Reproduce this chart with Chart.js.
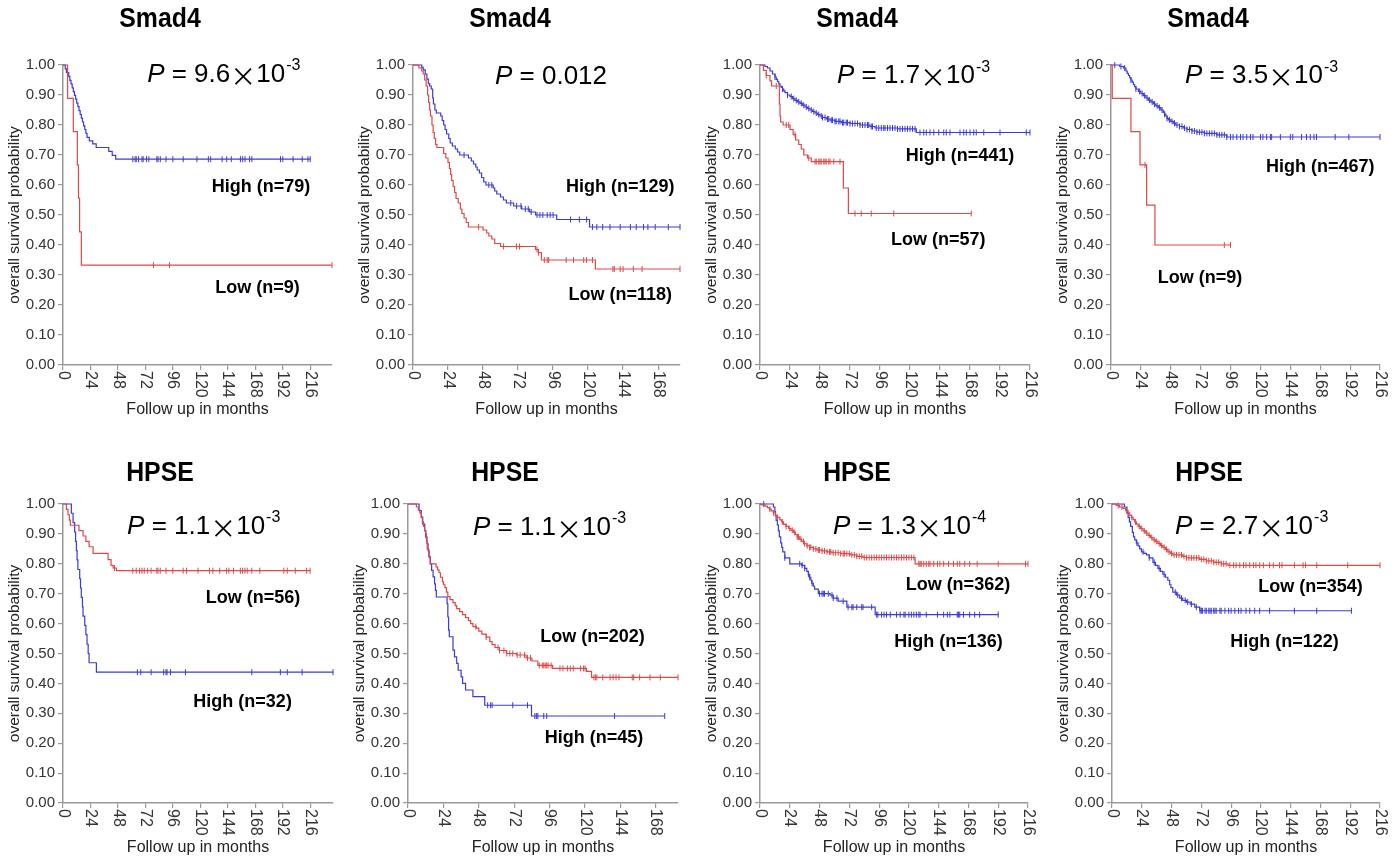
<!DOCTYPE html>
<html>
<head>
<meta charset="utf-8">
<script src="https://cdn.jsdelivr.net/npm/chart.js@4.4.1/dist/chart.umd.min.js"></script>
<style>
  body { margin: 0; background: #fff; width: 1400px; height: 861px; position: relative; overflow: hidden; }
  canvas { position: absolute; }
</style>
</head>
<body>
<script>
// axis ticks
const xTicks = [0, 24, 48, 72, 96, 120, 144, 168, 192, 216];
const yTicks = [0, 0.1, 0.2, 0.3, 0.4, 0.5, 0.6, 0.7, 0.8, 0.9, 1.0];

// panel texts
const genes = ['Smad4', 'Smad4', 'Smad4', 'Smad4', 'HPSE', 'HPSE', 'HPSE', 'HPSE'];
const pMantissa = ['9.6', '0.012', '1.7', '3.5', '1.1', '1.1', '1.3', '2.7'];
const pExponent = ['-3', null, '-3', '-3', '-3', '-3', '-4', '-3'];
const highLabels = ['High (n=79)', 'High (n=129)', 'High (n=441)', 'High (n=467)', 'High (n=32)', 'High (n=45)', 'High (n=136)', 'High (n=122)'];
const lowLabels = ['Low (n=9)', 'Low (n=118)', 'Low (n=57)', 'Low (n=9)', 'Low (n=56)', 'Low (n=202)', 'Low (n=362)', 'Low (n=354)'];

// Kaplan-Meier steps: T = event times (months), S = survival after the step, C = censor times
const p1HighT = [2, 3, 5, 6, 7, 8, 9, 10, 11, 12, 13, 14, 15, 16, 17, 18, 19, 20, 21, 23, 26, 29, 40, 43, 46];
const p1HighS = [0.987, 0.975, 0.962, 0.949, 0.937, 0.924, 0.911, 0.899, 0.886, 0.873, 0.861, 0.848, 0.835, 0.823, 0.810, 0.797, 0.785, 0.772, 0.759, 0.747, 0.737, 0.725, 0.712, 0.699, 0.686];
const p1HighC = [61, 63, 64, 66, 69, 70, 73, 75, 82, 83, 85, 90, 96, 105, 117, 127, 129, 139, 143, 147, 155, 157, 159, 163, 165, 190, 192, 201, 209, 214, 216];
const p1LowT = [4, 9, 12.5, 13.5, 14.5, 16];
const p1LowS = [0.889, 0.778, 0.667, 0.556, 0.444, 0.333];
const p1LowC = [79, 93, 235];

const p2HighT = [6, 7, 8.4, 9.5, 10.5, 11.4, 12.5, 13.5, 14, 15, 16, 19, 20, 21, 22, 23, 24.5, 25.5, 27, 29, 30.5, 32, 38, 40, 41.5, 43, 44, 45.5, 47, 48.5, 50, 55, 56, 57.4, 60, 62, 64, 69, 74.5, 80, 84, 98.5, 121];
const p2HighS = [0.992, 0.984, 0.97, 0.953, 0.938, 0.93, 0.92, 0.89, 0.87, 0.85, 0.84, 0.83, 0.815, 0.80, 0.785, 0.77, 0.755, 0.74, 0.73, 0.72, 0.71, 0.70, 0.69, 0.68, 0.67, 0.66, 0.65, 0.64, 0.625, 0.61, 0.60, 0.59, 0.58, 0.57, 0.56, 0.55, 0.54, 0.53, 0.52, 0.51, 0.50, 0.485, 0.46];
const p2HighC = [35, 52, 54, 67, 71, 74, 77, 79, 81, 85, 87, 89, 92, 94, 96, 108, 114, 119, 123, 126, 130, 135, 142, 149, 153, 158, 161, 166, 175, 183];
const p2LowT = [4, 6, 7, 8, 9, 10, 10.7, 11.4, 12, 13, 13.8, 14.6, 15.5, 16.4, 21, 22.5, 24, 25, 25.8, 26.5, 27.5, 28.5, 29.5, 31, 32.5, 33.5, 35, 36.5, 38, 48, 50.5, 52, 54, 56, 60, 84, 86, 88, 125];
const p2LowS = [0.99, 0.98, 0.97, 0.95, 0.93, 0.90, 0.875, 0.85, 0.83, 0.80, 0.775, 0.755, 0.735, 0.725, 0.705, 0.69, 0.675, 0.655, 0.635, 0.615, 0.595, 0.575, 0.555, 0.54, 0.52, 0.505, 0.49, 0.475, 0.46, 0.45, 0.44, 0.43, 0.42, 0.405, 0.395, 0.385, 0.375, 0.35, 0.32];
const p2LowC = [45, 62, 71, 73, 85, 86, 90, 92, 93, 105, 110, 117, 119, 123, 137, 138, 142, 144, 151, 157, 183];

const p3HighT = [4, 6, 8, 10, 12, 13, 14, 15, 16, 17, 18, 19, 20, 22, 24, 26, 28, 30, 32, 34, 36, 38, 40, 42, 44, 46, 48, 50, 53, 56, 60, 65, 72, 80, 88, 92, 110, 125];
const p3HighS = [0.995, 0.99, 0.98, 0.97, 0.96, 0.952, 0.945, 0.937, 0.93, 0.925, 0.92, 0.914, 0.908, 0.90, 0.895, 0.888, 0.882, 0.877, 0.872, 0.866, 0.86, 0.855, 0.85, 0.845, 0.84, 0.835, 0.83, 0.825, 0.82, 0.816, 0.812, 0.808, 0.805, 0.80, 0.795, 0.79, 0.787, 0.775];
const p3HighC = [12, 18, 22, 25, 27, 29, 31, 33, 35, 37, 39, 41, 43, 45, 47, 49, 50, 52, 54, 55, 57, 58, 60, 61, 63, 64, 66, 67, 69, 70, 72, 74, 76, 78, 80, 82, 84, 86, 87, 89, 90, 93, 95, 97, 99, 100, 102, 104, 106, 108, 110, 112, 114, 116, 118, 120, 122, 124, 128, 131, 133, 136, 139, 143, 147, 149, 152, 160, 163, 165, 168, 171, 173, 179, 192, 213, 216];
const p3LowT = [2.7, 5, 8, 9.3, 15.5, 16, 16.5, 18.5, 24, 26.5, 28.5, 31, 33, 35, 38, 41, 66.7, 70.7];
const p3LowS = [0.982, 0.965, 0.947, 0.93, 0.87, 0.83, 0.81, 0.80, 0.785, 0.768, 0.75, 0.735, 0.72, 0.70, 0.69, 0.678, 0.59, 0.505];
const p3LowC = [5, 13, 21, 23, 28, 39, 44, 45, 47, 48, 49, 51, 52, 53, 55, 56, 59, 64, 76, 81, 89, 107, 169];

const p4HighT = [7, 10, 12, 13, 14, 15, 16, 17, 18, 19, 20, 22, 24, 26, 28, 30, 32, 34, 36, 38, 40, 42, 43, 44, 45, 46, 48, 50, 52, 55, 58, 61, 65, 69, 75, 85, 93];
const p4HighS = [0.995, 0.99, 0.98, 0.972, 0.965, 0.957, 0.95, 0.943, 0.935, 0.928, 0.92, 0.912, 0.905, 0.898, 0.89, 0.883, 0.877, 0.87, 0.864, 0.858, 0.85, 0.842, 0.836, 0.83, 0.822, 0.817, 0.812, 0.806, 0.80, 0.795, 0.79, 0.785, 0.78, 0.776, 0.772, 0.767, 0.76];
const p4HighC = [3, 8, 11, 16, 20, 23, 25, 27, 29, 31, 33, 35, 37, 39, 41, 43, 45, 47, 49, 51, 53, 55, 57, 59, 61, 63, 65, 67, 69, 71, 73, 75, 77, 79, 81, 83, 85, 87, 89, 91, 93, 96, 98, 101, 104, 106, 109, 112, 114, 120, 122, 125, 128, 129, 136, 144, 146, 153, 157, 160, 163, 165, 180, 191, 216];
const p4LowT = [1, 16, 23.3, 28.6, 35.3];
const p4LowS = [0.889, 0.778, 0.667, 0.533, 0.40];
const p4LowC = [27.3, 91, 96];

const p5HighT = [7.3, 8.8, 10.2, 11, 11.7, 12.3, 13, 14.6, 15.3, 16, 17, 17.5, 19, 20, 21, 22, 22.8, 29.2];
const p5HighS = [0.969, 0.938, 0.906, 0.875, 0.844, 0.813, 0.781, 0.750, 0.719, 0.688, 0.656, 0.625, 0.594, 0.563, 0.531, 0.500, 0.469, 0.4375];
const p5HighC = [65, 68, 77, 88, 90, 91, 94, 107, 165, 190, 196, 209, 236];
const p5LowT = [3, 4.4, 5.5, 6.4, 14, 17.5, 20, 22.8, 26.3, 39.4, 42, 43.8, 46.7];
const p5LowS = [0.982, 0.964, 0.946, 0.929, 0.911, 0.893, 0.875, 0.857, 0.835, 0.814, 0.795, 0.786, 0.777];
const p5LowC = [45, 61, 64, 67, 69, 71, 74, 77, 82, 83, 85, 90, 96, 105, 108, 118, 128, 131, 137, 143, 145, 149, 155, 157, 159, 161, 165, 172, 193, 196, 203, 213, 216];

const p6HighT = [7.5, 9, 10, 11.3, 12, 12.9, 13.6, 14.3, 15.2, 16, 17, 18, 18.6, 19.2, 26.5, 27, 27.5, 28, 30.5, 31.5, 33, 34, 36, 37, 39, 44, 52, 83.7];
const p6HighS = [0.978, 0.956, 0.933, 0.911, 0.889, 0.867, 0.844, 0.822, 0.80, 0.778, 0.756, 0.733, 0.711, 0.689, 0.667, 0.622, 0.578, 0.556, 0.511, 0.489, 0.467, 0.444, 0.422, 0.40, 0.378, 0.356, 0.327, 0.291];
const p6HighC = [54, 56, 57, 71, 81, 86, 87, 88, 92, 94, 140, 174];
const p6LowT = [5.7, 7, 8, 9, 9.7, 10.5, 11.3, 12, 12.5, 13, 14, 15, 19, 20, 21, 22, 23.3, 24, 25, 26, 27, 28.5, 30.5, 32, 33, 35, 37, 39, 41, 42.5, 44, 46.4, 48, 50, 53, 55.4, 57, 59, 62, 66.7, 73.5, 80, 84, 88, 98, 121, 124.4];
const p6LowS = [0.99, 0.98, 0.97, 0.955, 0.94, 0.925, 0.91, 0.90, 0.875, 0.85, 0.825, 0.80, 0.79, 0.78, 0.77, 0.755, 0.74, 0.73, 0.72, 0.705, 0.69, 0.68, 0.67, 0.66, 0.65, 0.64, 0.63, 0.62, 0.61, 0.60, 0.59, 0.585, 0.575, 0.565, 0.555, 0.54, 0.53, 0.52, 0.51, 0.50, 0.495, 0.485, 0.475, 0.46, 0.45, 0.44, 0.42];
const p6LowC = [46, 53, 61, 62, 65, 67, 69, 71, 74, 76, 79, 81, 83, 89, 91, 92, 93, 94, 95, 97, 103, 105, 108, 110, 112, 117, 119, 120, 126, 127, 128, 132, 137, 139, 141, 143, 152, 153, 157, 164, 171, 183];

const p7HighT = [10.8, 12, 12.5, 13, 14, 14.8, 15.6, 16.7, 17.5, 18.3, 20, 24, 33.6, 36, 37.7, 39, 40, 41, 41.7, 43, 44, 47, 56.5, 59, 63, 70, 92.8];
const p7HighS = [0.99, 0.975, 0.96, 0.945, 0.93, 0.91, 0.89, 0.87, 0.855, 0.84, 0.82, 0.80, 0.795, 0.785, 0.775, 0.765, 0.755, 0.745, 0.735, 0.725, 0.715, 0.70, 0.695, 0.685, 0.675, 0.655, 0.63];
const p7HighC = [3, 20, 32, 34, 36, 39, 40, 42, 48, 50, 51, 52, 55, 58, 59, 62, 67, 71, 74, 75, 78, 82, 83, 90, 94, 95, 98, 100, 102, 105, 110, 113, 116, 117, 120, 122, 124, 126, 128, 129, 134, 143, 148, 151, 153, 159, 160, 161, 164, 169, 173, 177, 192];
const p7LowT = [1.3, 4, 6, 7.5, 9, 10.8, 12.5, 14, 16, 17.5, 19, 21, 23, 25, 27, 28.5, 30, 32, 33.6, 35.5, 37.7, 40, 43, 46, 50, 54, 58, 65, 72.6, 78, 83, 125];
const p7LowS = [0.997, 0.993, 0.988, 0.983, 0.977, 0.97, 0.962, 0.955, 0.947, 0.94, 0.932, 0.925, 0.918, 0.912, 0.905, 0.898, 0.89, 0.882, 0.875, 0.867, 0.86, 0.855, 0.85, 0.846, 0.843, 0.84, 0.837, 0.834, 0.83, 0.825, 0.821, 0.80];
const p7LowC = [8, 11, 14, 18, 21, 24, 26, 28, 30, 31, 33, 35, 36, 38, 40, 41, 43, 45, 47, 48, 50, 52, 54, 56, 57, 59, 61, 63, 65, 67, 68, 70, 72, 74, 76, 78, 80, 82, 84, 86, 88, 90, 92, 94, 96, 98, 100, 102, 104, 106, 108, 110, 112, 114, 116, 118, 120, 122, 124, 128, 129, 130, 132, 134, 136, 137, 140, 143, 145, 148, 152, 156, 159, 161, 165, 169, 175, 192, 214, 216];

const p8HighT = [10, 12, 13, 14, 15, 16.4, 17.3, 18.3, 19.6, 21, 22.3, 23.7, 25.7, 27.7, 30, 33, 35, 37, 39, 41, 43, 45, 46.5, 47.5, 49, 52, 54.6, 57, 60, 63, 66.7, 70.7];
const p8HighS = [0.99, 0.97, 0.955, 0.94, 0.925, 0.905, 0.89, 0.88, 0.87, 0.86, 0.85, 0.84, 0.835, 0.83, 0.82, 0.805, 0.795, 0.785, 0.775, 0.765, 0.755, 0.745, 0.73, 0.72, 0.705, 0.695, 0.685, 0.678, 0.672, 0.665, 0.655, 0.643];
const p8HighC = [20, 25, 30, 34, 38, 42, 51, 53, 56, 59, 61, 64, 68, 71, 72, 73, 75, 76, 78, 79, 80, 82, 83, 84, 87, 88, 91, 94, 96, 99, 102, 104, 108, 111, 115, 119, 127, 147, 165, 193];
const p8LowT = [3.5, 6, 9, 11, 13, 14.3, 15.6, 17, 18.3, 19.7, 21, 23, 25, 27, 29, 31, 33, 35, 37, 39, 41, 43, 45, 47, 49, 57, 60, 70.7, 76, 82, 88, 93.6];
const p8LowS = [0.995, 0.99, 0.985, 0.978, 0.97, 0.962, 0.955, 0.948, 0.94, 0.933, 0.925, 0.918, 0.91, 0.903, 0.895, 0.888, 0.88, 0.875, 0.868, 0.861, 0.855, 0.848, 0.84, 0.835, 0.83, 0.825, 0.82, 0.815, 0.81, 0.805, 0.80, 0.795];
const p8LowC = [5, 8, 12, 16, 19, 22, 24, 26, 28, 30, 32, 34, 36, 38, 40, 42, 44, 46, 48, 50, 52, 54, 56, 58, 60, 62, 64, 66, 68, 70, 72, 74, 76, 78, 80, 82, 84, 86, 88, 90, 92, 95, 98, 100, 103, 106, 108, 111, 114, 116, 119, 122, 127, 130, 135, 137, 147, 154, 156, 165, 190, 216];

const curves = [
  [[p1HighT, p1HighS, p1HighC], [p1LowT, p1LowS, p1LowC]],
  [[p2HighT, p2HighS, p2HighC], [p2LowT, p2LowS, p2LowC]],
  [[p3HighT, p3HighS, p3HighC], [p3LowT, p3LowS, p3LowC]],
  [[p4HighT, p4HighS, p4HighC], [p4LowT, p4LowS, p4LowC]],
  [[p5HighT, p5HighS, p5HighC], [p5LowT, p5LowS, p5LowC]],
  [[p6HighT, p6HighS, p6HighC], [p6LowT, p6LowS, p6LowC]],
  [[p7HighT, p7HighS, p7HighC], [p7LowT, p7LowS, p7LowC]],
  [[p8HighT, p8HighS, p8HighC], [p8LowT, p8LowS, p8LowC]]
];

// layout of each panel on the page (canvas box, plot top/bottom, axis max, text anchors in data units)
const layout = [
  { left: 0,    top: 0,   w: 346, h: 440, plotTop: 65,  plotBottom: 365, xmax: 235, titleY: 20,  pAt: [73.5, 0.967], highAt: [173, 0.593], lowAt: [170, 0.257] },
  { left: 350,  top: 0,   w: 344, h: 440, plotTop: 65,  plotBottom: 365, xmax: 183, titleY: 20,  pAt: [56.2, 0.96],  highAt: [142, 0.593], lowAt: [142, 0.233] },
  { left: 697,  top: 0,   w: 347, h: 440, plotTop: 65,  plotBottom: 365, xmax: 216, titleY: 20,  pAt: [61.6, 0.963], highAt: [160, 0.697], lowAt: [142.6, 0.417] },
  { left: 1048, top: 0,   w: 346, h: 440, plotTop: 65,  plotBottom: 365, xmax: 216, titleY: 20,  pAt: [59.4, 0.963], highAt: [168, 0.66],  lowAt: [71.5, 0.29] },
  { left: 0,    top: 440, w: 347, h: 421, plotTop: 504, plotBottom: 803, xmax: 236, titleY: 474, pAt: [56, 0.923],   highAt: [157, 0.338], lowAt: [166, 0.686] },
  { left: 345,  top: 440, w: 347, h: 421, plotTop: 504, plotBottom: 803, xmax: 183, titleY: 474, pAt: [44, 0.92],    highAt: [126, 0.217], lowAt: [125, 0.555] },
  { left: 697,  top: 440, w: 345, h: 421, plotTop: 504, plotBottom: 803, xmax: 216, titleY: 474, pAt: [58.8, 0.923], highAt: [152, 0.538], lowAt: [159.5, 0.729] },
  { left: 1049, top: 440, w: 345, h: 421, plotTop: 504, plotBottom: 803, xmax: 216, titleY: 474, pAt: [50.8, 0.923], highAt: [139, 0.538], lowAt: [160, 0.722] }
];

const FONT = "'Liberation Sans', Arial, sans-serif";
const BLUE = '#3b3bdc';
const RED = '#e04848';
const AXIS = '#9a9a9a';

function survivalAt(T, S, t) {
  let s = 1;
  for (let i = 0; i < T.length; i++) if (T[i] <= t) s = S[i];
  return s;
}

function kmDatasets(group, color) {
  const [T, S, C] = group;
  const end = Math.max(...C, T[T.length - 1]);
  const pts = [{ x: 0, y: 1 }];
  T.forEach((t, i) => pts.push({ x: t, y: S[i] }));
  pts.push({ x: end, y: S[S.length - 1] });
  return [
    { data: pts, stepped: true, borderColor: color, borderWidth: 1.2, pointRadius: 0, fill: false, clip: false },
    { data: C.map(t => ({ x: t, y: survivalAt(T, S, t) })), showLine: false, pointStyle: 'line', pointRotation: 90,
      pointRadius: 3, pointBorderColor: color, pointBorderWidth: 1, clip: false }
  ];
}

function annotatePlugin(i) {
  const g = layout[i];
  return {
    id: 'annotate' + i,
    afterDraw(chart) {
      const { ctx, chartArea: a, scales: { x, y } } = chart;
      ctx.save();
      // title
      ctx.fillStyle = '#000';
      ctx.textAlign = 'center';
      ctx.textBaseline = 'middle';
      ctx.save();
      ctx.translate(a.left + 97, g.titleY - g.top);
      ctx.scale(0.92, 1);
      ctx.font = 'bold 27px ' + FONT;
      ctx.fillText(genes[i], 0, 0);
      ctx.restore();

      // y axis title
      ctx.fillStyle = '#222';
      ctx.font = '15.5px ' + FONT;
      ctx.save();
      ctx.translate(a.left - 48, (a.top + a.bottom) / 2);
      ctx.rotate(-Math.PI / 2);
      ctx.fillText('overall survival probability', 0, 0);
      ctx.restore();

      // x axis title
      ctx.font = '16px ' + FONT;
      ctx.fillText('Follow up in months', (a.left + a.right) / 2, a.bottom + 45);

      // rotated x tick labels
      ctx.fillStyle = '#333';
      ctx.font = '16px ' + FONT;
      ctx.textAlign = 'left';
      x.ticks.forEach(t => {
        ctx.save();
        ctx.translate(x.getPixelForValue(t.value), a.bottom + 6);
        ctx.rotate(Math.PI / 2);
        ctx.fillText(String(t.value), 0, 0);
        ctx.restore();
      });

      // P value
      ctx.fillStyle = '#000';
      let px = x.getPixelForValue(g.pAt[0]);
      const py = y.getPixelForValue(g.pAt[1]);
      ctx.font = 'italic 26px ' + FONT;
      ctx.fillText('P', px, py);
      px += ctx.measureText('P').width;
      ctx.font = '26px ' + FONT;
      const mid = ' = ' + pMantissa[i];
      ctx.fillText(mid, px, py);
      px += ctx.measureText(mid).width;
      if (pExponent[i]) {
        ctx.font = '26px "Noto Sans CJK SC"';
        ctx.fillText('\u00d7', px, py + 1);
        px += ctx.measureText('\u00d7').width;
        ctx.font = '26px ' + FONT;
        ctx.fillText('10', px, py);
        px += ctx.measureText('10').width;
        ctx.font = '16px ' + FONT;
        ctx.fillText(pExponent[i], px + 1, py - 9);
      }

      // group labels
      ctx.textAlign = 'center';
      ctx.font = 'bold 18px ' + FONT;
      ctx.fillText(highLabels[i], x.getPixelForValue(g.highAt[0]), y.getPixelForValue(g.highAt[1]));
      ctx.fillText(lowLabels[i], x.getPixelForValue(g.lowAt[0]), y.getPixelForValue(g.lowAt[1]));
      ctx.restore();
    }
  };
}

layout.forEach((g, i) => {
  const canvas = document.createElement('canvas');
  canvas.width = g.w;
  canvas.height = g.h;
  canvas.style.left = g.left + 'px';
  canvas.style.top = g.top + 'px';
  canvas.style.width = g.w + 'px';
  canvas.style.height = g.h + 'px';
  document.body.appendChild(canvas);

  const [high, low] = curves[i];
  new Chart(canvas, {
    type: 'line',
    data: { datasets: [...kmDatasets(low, RED), ...kmDatasets(high, BLUE)] },
    options: {
      responsive: false,
      animation: false,
      events: [],
      layout: { padding: { left: 0, right: 14, top: g.plotTop - g.top, bottom: 0 } },
      plugins: { legend: { display: false }, tooltip: { enabled: false } },
      scales: {
        x: {
          type: 'linear', min: 0, max: g.xmax,
          afterBuildTicks: s => { s.ticks = xTicks.filter(v => v <= g.xmax).map(v => ({ value: v })); },
          afterFit: s => { s.height = g.top + g.h - g.plotBottom; },
          ticks: { display: false },
          grid: { drawOnChartArea: false, drawTicks: true, tickLength: 5, color: AXIS, lineWidth: 1.2 },
          border: { display: true, color: AXIS, width: 1.5 }
        },
        y: {
          type: 'linear', min: 0, max: 1,
          afterBuildTicks: s => { s.ticks = yTicks.map(v => ({ value: v })); },
          afterFit: s => { s.width = 63; },
          ticks: { callback: v => v.toFixed(2), color: '#333', padding: 3, font: { size: 15, family: FONT } },
          grid: { drawOnChartArea: false, drawTicks: true, tickLength: 5, color: AXIS, lineWidth: 1.2 },
          border: { display: true, color: AXIS, width: 1.5 }
        }
      }
    },
    plugins: [annotatePlugin(i)]
  });
});
</script>
</body>
</html>
